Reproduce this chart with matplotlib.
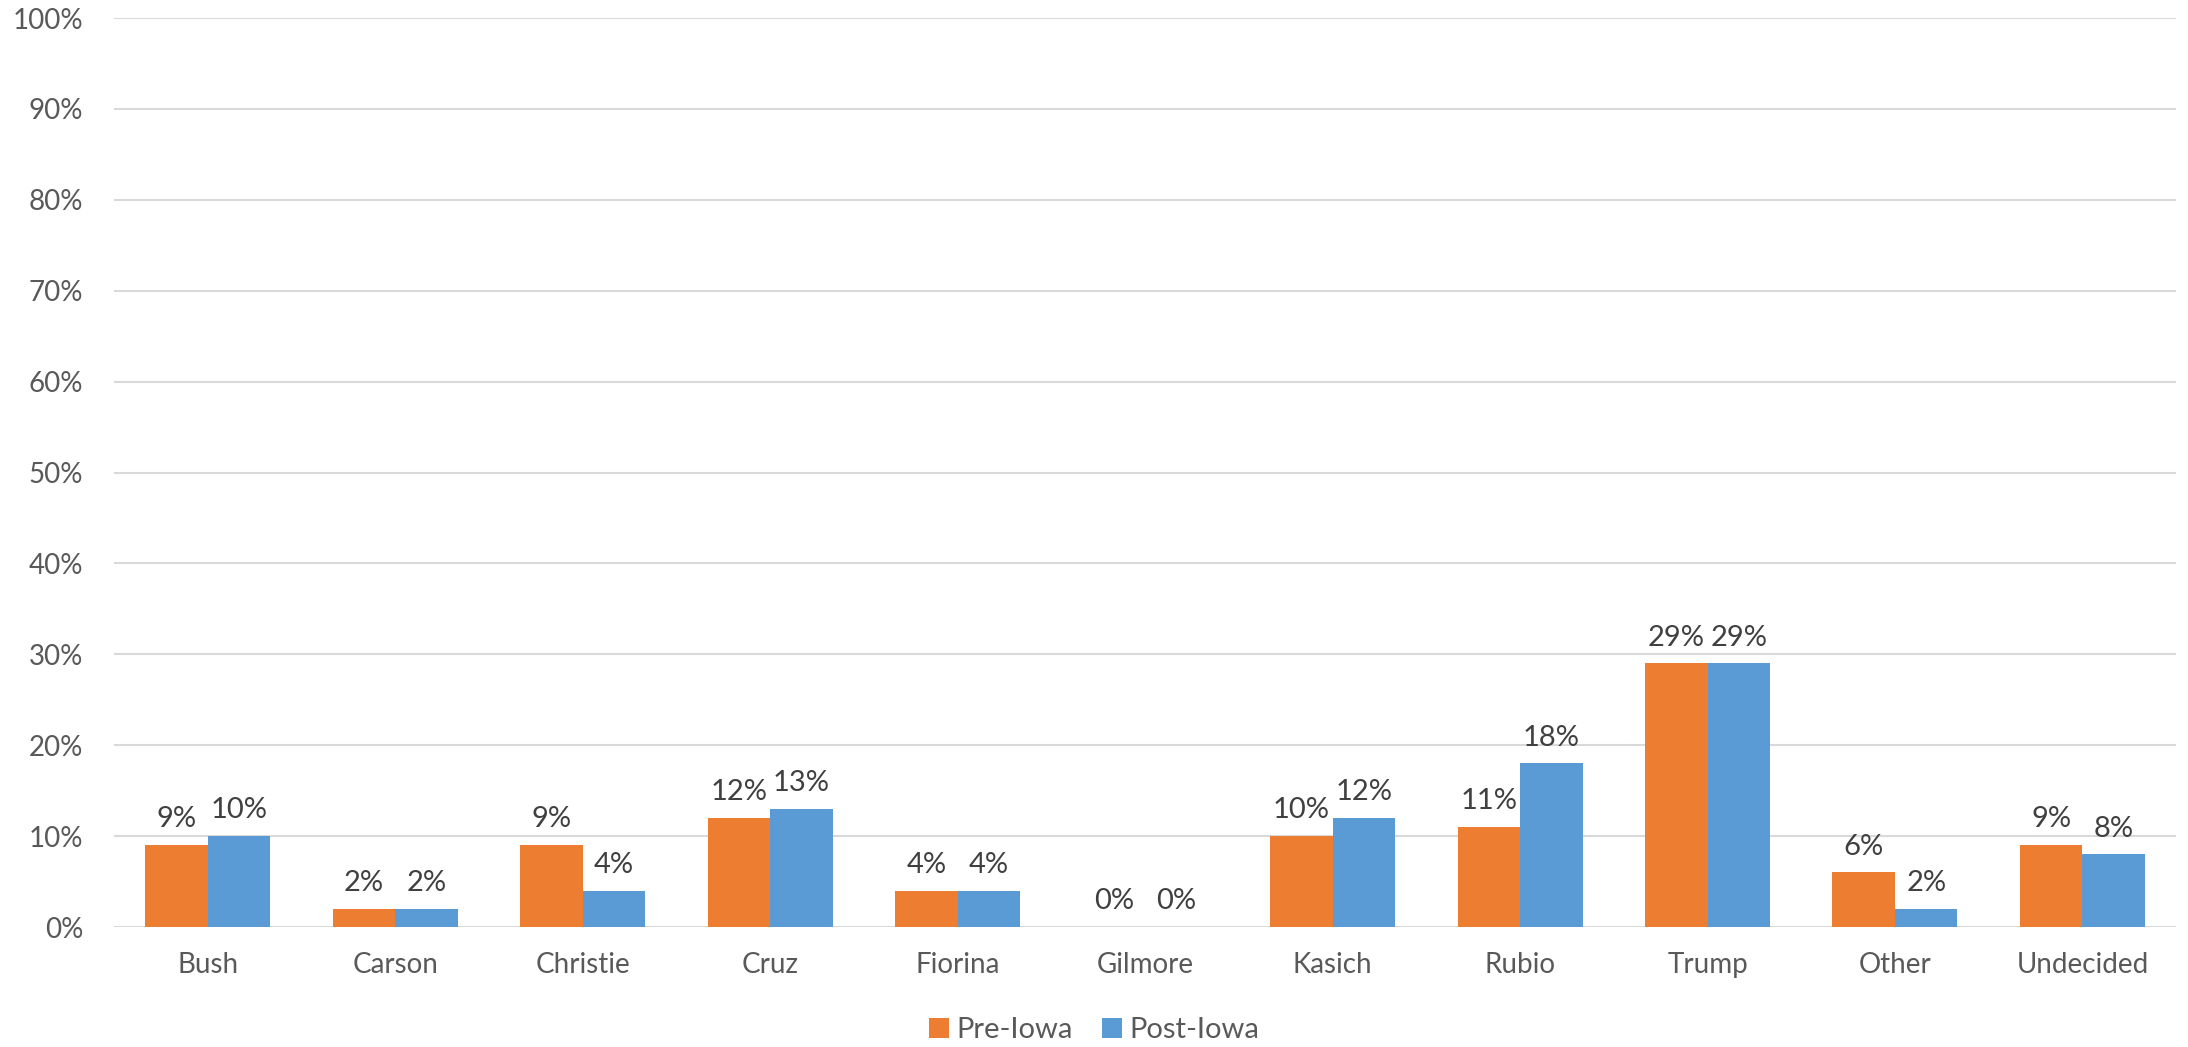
import matplotlib.pyplot as plt
import numpy as np

candidates = ['Bush', 'Carson', 'Christie', 'Cruz', 'Fiorina', 'Gilmore',
              'Kasich', 'Rubio', 'Trump', 'Other', 'Undecided']
pre_iowa = [9, 2, 9, 12, 4, 0, 10, 11, 29, 6, 9]
post_iowa = [10, 2, 4, 13, 4, 0, 12, 18, 29, 2, 8]

plt.rcParams['font.family'] = ['Lato', 'DejaVu Sans']

fig = plt.figure(figsize=(21.88, 10.47), dpi=100)
ax = fig.add_axes([0.0521, 0.1146, 0.9425, 0.8682])

x = np.arange(len(candidates))
w = 1 / 3
b1 = ax.bar(x - w / 2, pre_iowa, w, color='#ED7D31', label='Pre-Iowa', zorder=3)
b2 = ax.bar(x + w / 2, post_iowa, w, color='#5B9BD5', label='Post-Iowa', zorder=3)

for bars, vals in ((b1, pre_iowa), (b2, post_iowa)):
    for r, v in zip(bars, vals):
        ax.text(r.get_x() + r.get_width() / 2, v + 1.4, f'{v}%', ha='center',
                va='bottom', fontsize=21, color='#404040')

ax.set_xlim(-0.5, len(candidates) - 0.5)
ax.set_ylim(0, 100)
ax.set_yticks(range(0, 101, 10))
ax.set_yticklabels([f'{t}%' for t in range(0, 101, 10)])
ax.set_xticks(x)
ax.set_xticklabels(candidates)
ax.tick_params(axis='y', length=0, pad=22, labelsize=20, labelcolor='#595959')
ax.tick_params(axis='x', length=0, pad=18, labelsize=20, labelcolor='#595959')
ax.grid(axis='y', color='#d9d9d9', linewidth=1.5, zorder=0)
for s in ax.spines.values():
    s.set_visible(False)

fig.legend(loc='center', bbox_to_anchor=(0.5, 0.016), ncol=2, frameon=False,
           fontsize=21, labelcolor='#595959', handlelength=0.7, handleheight=0.7,
           handletextpad=0.25, columnspacing=1.0)

plt.savefig('out.png')
